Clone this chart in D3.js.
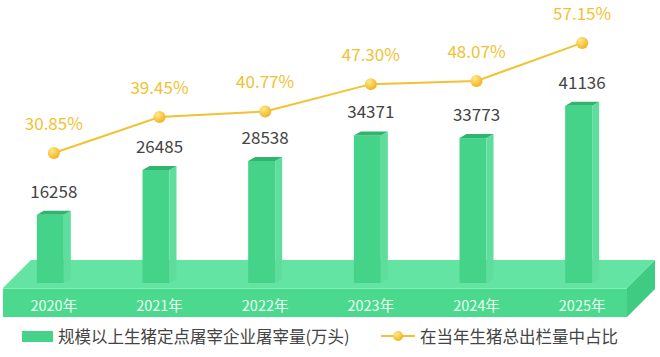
<!DOCTYPE html>
<html><head><meta charset="utf-8">
<script src="https://cdn.jsdelivr.net/npm/d3@7/dist/d3.min.js"></script>
<style>body{margin:0;background:#fff}svg{display:block}</style>
</head><body><svg id="c" width="660" height="357"></svg>
<script>
const categories = ["2020年","2021年","2022年","2023年","2024年","2025年"];
const slaughter = [16258,26485,28538,34371,33773,41136];
const share = [30.85,39.45,40.77,47.30,48.07,57.15];
const shareLabels = ["30.85%","39.45%","40.77%","47.30%","48.07%","57.15%"];
const legendNames = ["规模以上生猪定点屠宰企业屠宰量(万头)","在当年生猪总出栏量中占比"];

const svg = d3.select("#c");
const font = "'Noto Sans CJK SC','Noto Sans',sans-serif";
const defs = svg.append("defs");
const g1 = defs.append("radialGradient").attr("id","dot").attr("cx","35%").attr("cy","30%").attr("r","75%");
g1.append("stop").attr("offset","0%").attr("stop-color","#ffe98a");
g1.append("stop").attr("offset","100%").attr("stop-color","#f2b01c");

const x = d3.scaleBand().domain(categories).range([1,635]).padding(0);
const yBar = d3.scaleLinear().domain([0,50000]).range([286,67]);
const yLine = d3.scaleLinear().domain([0,60]).range([282,31]);
const cx = d => x(d) + x.bandwidth()/2;

// platform
const depth = 28, dy = 28;
svg.append("polygon").attr("points",`3,288 627,288 655,260 31,260`).attr("fill","#64e4a2");
svg.append("polygon").attr("points",`3,288 627,288 627,317 3,317`).attr("fill","#4bd98e");
svg.append("line").attr("x1",3).attr("x2",627).attr("y1",288.5).attr("y2",288.5).attr("stroke","#7ff0b5").attr("stroke-width",1);
svg.append("polygon").attr("points",`627,288 655,260 655,289 627,317`).attr("fill","#3fcb82");

// bars
const bw = 27, sw = 7, th = 4;
const bars = svg.append("g").selectAll("g").data(categories).join("g");
bars.append("rect").attr("x",d=>cx(d)-17).attr("y",(d,i)=>yBar(slaughter[i])).attr("width",bw)
  .attr("height",(d,i)=>283-yBar(slaughter[i])).attr("fill","#45d38a");
bars.append("polygon").attr("points",(d,i)=>{const l=cx(d)-17+bw, t=yBar(slaughter[i]);
  return `${l},${t} ${l+sw},${t-th} ${l+sw},${279} ${l},${283}`;}).attr("fill","#5edd9c");
bars.append("polygon").attr("points",(d,i)=>{const l=cx(d)-17, t=yBar(slaughter[i]);
  return `${l},${t} ${l+bw},${t} ${l+bw+sw},${t-th} ${l+sw},${t-th}`;}).attr("fill","#2fb56f");
bars.append("text").attr("x",d=>cx(d)).attr("y",(d,i)=>yBar(slaughter[i])-17)
  .attr("text-anchor","middle").attr("font-family",font).attr("font-size",17).attr("fill","#444")
  .text((d,i)=>slaughter[i]);

// year labels
svg.append("g").selectAll("text").data(categories).join("text")
  .attr("x",d=>cx(d)).attr("y",311).attr("text-anchor","middle").attr("font-family",font)
  .attr("font-size",14.5).attr("fill","#eafff2").text(d=>d);

// line
const line = d3.line().x((d,i)=>cx(categories[i])).y(d=>yLine(d));
svg.append("path").attr("d",line(share)).attr("fill","none").attr("stroke","#f1c232").attr("stroke-width",2);
svg.append("g").selectAll("circle").data(share).join("circle")
  .attr("cx",(d,i)=>cx(categories[i])).attr("cy",d=>yLine(d)).attr("r",6).attr("fill","url(#dot)");
svg.append("g").selectAll("text").data(share).join("text")
  .attr("x",(d,i)=>cx(categories[i])).attr("y",d=>yLine(d)-23).attr("text-anchor","middle")
  .attr("font-family",font).attr("font-size",17).attr("fill","#f0c233").text((d,i)=>shareLabels[i]);

// legend
const lg = svg.append("g");
lg.append("rect").attr("x",22).attr("y",331).attr("width",31).attr("height",11).attr("fill","#45d38a");
lg.append("text").attr("x",58).attr("y",343).attr("font-family",font).attr("font-size",16.5).attr("fill","#444").text(legendNames[0]);
lg.append("line").attr("x1",381).attr("x2",415).attr("y1",336).attr("y2",336).attr("stroke","#f1c232").attr("stroke-width",2);
lg.append("circle").attr("cx",398).attr("cy",336).attr("r",5).attr("fill","url(#dot)");
lg.append("text").attr("x",420).attr("y",343).attr("font-family",font).attr("font-size",16.5).attr("fill","#444").text(legendNames[1]);
</script></body></html>
